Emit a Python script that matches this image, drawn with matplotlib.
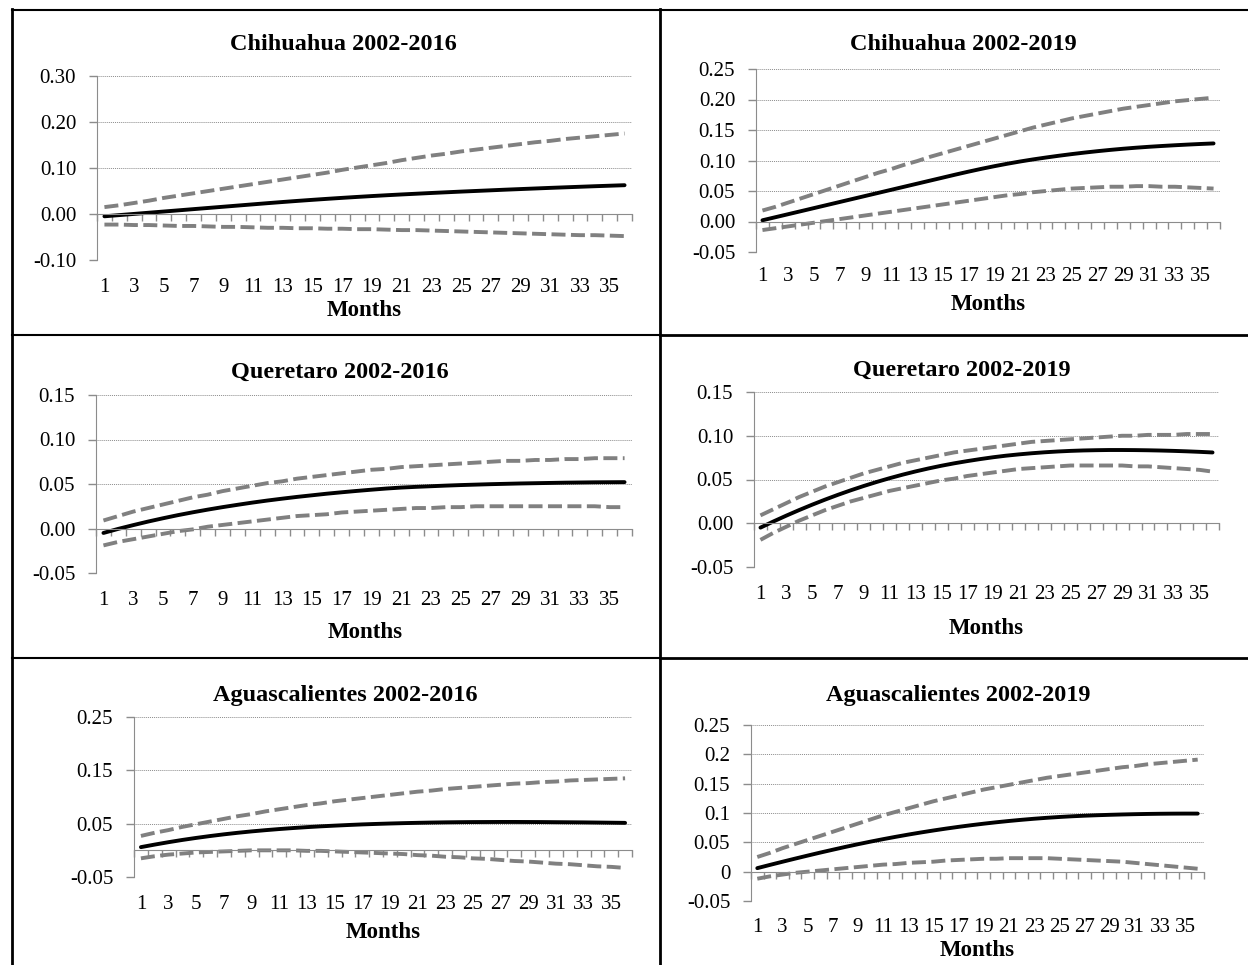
import matplotlib.pyplot as plt
from matplotlib.lines import Line2D
import numpy as np

plt.rcParams['font.family'] = ['Liberation Serif', 'DejaVu Serif']
plt.rcParams['axes.unicode_minus'] = False

W, H = 1248, 965

months = list(range(1, 37))
month_labels = [str(m) for m in range(1, 36, 2)]

# Chihuahua 2002-2016
chih16_irf = [-0.0050, -0.0024, 0.0002, 0.0028, 0.0054, 0.0080, 0.0106, 0.0132, 0.0158, 0.0184,
              0.0210, 0.0236, 0.0261, 0.0285, 0.0308, 0.0330, 0.0351, 0.0371, 0.0390, 0.0408,
              0.0425, 0.0441, 0.0457, 0.0472, 0.0487, 0.0501, 0.0515, 0.0529, 0.0542, 0.0555,
              0.0568, 0.0580, 0.0592, 0.0604, 0.0615, 0.0626]
chih16_upper = [0.015, 0.019, 0.024, 0.029, 0.035, 0.040, 0.045, 0.050, 0.055, 0.060,
                0.065, 0.070, 0.075, 0.080, 0.085, 0.090, 0.096, 0.101, 0.106, 0.111,
                0.117, 0.122, 0.127, 0.131, 0.136, 0.140, 0.144, 0.148, 0.152, 0.156,
                0.159, 0.163, 0.166, 0.169, 0.172, 0.175]
chih16_lower = [-0.023, -0.023, -0.024, -0.024, -0.025, -0.026, -0.026, -0.027, -0.028, -0.028,
                -0.029, -0.030, -0.030, -0.031, -0.031, -0.032, -0.032, -0.033, -0.033, -0.034,
                -0.035, -0.035, -0.036, -0.037, -0.038, -0.039, -0.040, -0.041, -0.042, -0.043,
                -0.044, -0.045, -0.046, -0.046, -0.047, -0.048]
chih16_yticks = [-0.10, 0.00, 0.10, 0.20, 0.30]
chih16_ylabels = ['-0.10', '0.00', '0.10', '0.20', '0.30']

# Chihuahua 2002-2019
chih19_irf = [0.0020, 0.0070, 0.0120, 0.0170, 0.0220, 0.0270, 0.0320, 0.0370, 0.0420, 0.0470,
              0.0520, 0.0570, 0.0620, 0.0670, 0.0720, 0.0770, 0.0818, 0.0864, 0.0907, 0.0947,
              0.0984, 0.1018, 0.1049, 0.1078, 0.1105, 0.1130, 0.1153, 0.1174, 0.1193, 0.1210,
              0.1225, 0.1238, 0.1250, 0.1261, 0.1271, 0.1280]
chih19_upper = [0.018, 0.024, 0.031, 0.038, 0.045, 0.052, 0.059, 0.066, 0.073, 0.080,
                0.086, 0.093, 0.099, 0.106, 0.112, 0.118, 0.124, 0.130, 0.136, 0.142,
                0.148, 0.154, 0.159, 0.164, 0.169, 0.173, 0.177, 0.181, 0.185, 0.188,
                0.191, 0.194, 0.197, 0.199, 0.201, 0.203]
chih19_lower = [-0.014, -0.011, -0.008, -0.005, -0.002, 0.001, 0.004, 0.007, 0.010, 0.013,
                0.016, 0.019, 0.022, 0.025, 0.028, 0.031, 0.034, 0.037, 0.040, 0.043,
                0.045, 0.048, 0.050, 0.052, 0.054, 0.055, 0.056, 0.057, 0.057, 0.058,
                0.058, 0.057, 0.057, 0.056, 0.055, 0.054]
chih19_yticks = [-0.05, 0.00, 0.05, 0.10, 0.15, 0.20, 0.25]
chih19_ylabels = ['-0.05', '0.00', '0.05', '0.10', '0.15', '0.20', '0.25']

# Queretaro 2002-2016
quer16_irf = [-0.0050, -0.0004, 0.0038, 0.0078, 0.0115, 0.0150, 0.0182, 0.0212, 0.0240, 0.0266,
              0.0291, 0.0314, 0.0335, 0.0355, 0.0373, 0.0391, 0.0407, 0.0422, 0.0436, 0.0449,
              0.0460, 0.0468, 0.0475, 0.0482, 0.0488, 0.0493, 0.0498, 0.0502, 0.0506, 0.0509,
              0.0512, 0.0515, 0.0517, 0.0519, 0.0520, 0.0521]
quer16_upper = [0.009, 0.014, 0.019, 0.023, 0.027, 0.031, 0.035, 0.038, 0.042, 0.045,
                0.048, 0.051, 0.053, 0.056, 0.058, 0.060, 0.062, 0.064, 0.066, 0.067,
                0.069, 0.070, 0.071, 0.072, 0.073, 0.074, 0.075, 0.076, 0.076, 0.077,
                0.077, 0.078, 0.078, 0.079, 0.079, 0.079]
quer16_lower = [-0.019, -0.015, -0.012, -0.009, -0.006, -0.003, -0.001, 0.002, 0.004, 0.006,
                0.008, 0.010, 0.012, 0.014, 0.015, 0.016, 0.018, 0.019, 0.020, 0.021,
                0.022, 0.023, 0.023, 0.024, 0.024, 0.025, 0.025, 0.025, 0.025, 0.025,
                0.025, 0.025, 0.025, 0.025, 0.024, 0.024]
quer16_yticks = [-0.05, 0.00, 0.05, 0.10, 0.15]
quer16_ylabels = ['-0.05', '0.00', '0.05', '0.10', '0.15']

# Queretaro 2002-2019
quer19_irf = [-0.0050, 0.0020, 0.0087, 0.0151, 0.0212, 0.0270, 0.0325, 0.0377, 0.0426, 0.0472,
              0.0515, 0.0555, 0.0592, 0.0626, 0.0657, 0.0685, 0.0710, 0.0733, 0.0754, 0.0772,
              0.0787, 0.0800, 0.0811, 0.0820, 0.0827, 0.0832, 0.0835, 0.0837, 0.0837, 0.0836,
              0.0834, 0.0831, 0.0827, 0.0822, 0.0816, 0.0809]
quer19_upper = [0.009, 0.016, 0.023, 0.030, 0.036, 0.042, 0.047, 0.052, 0.057, 0.061,
                0.065, 0.069, 0.072, 0.075, 0.078, 0.081, 0.083, 0.085, 0.087, 0.089,
                0.091, 0.093, 0.094, 0.095, 0.096, 0.097, 0.098, 0.099, 0.100, 0.100,
                0.101, 0.101, 0.101, 0.102, 0.102, 0.102]
quer19_lower = [-0.019, -0.011, -0.004, 0.003, 0.009, 0.015, 0.020, 0.025, 0.029, 0.033,
                0.037, 0.040, 0.043, 0.046, 0.049, 0.051, 0.054, 0.056, 0.058, 0.060,
                0.062, 0.063, 0.064, 0.065, 0.066, 0.066, 0.066, 0.066, 0.066, 0.065,
                0.065, 0.064, 0.063, 0.062, 0.061, 0.059]
quer19_yticks = [-0.05, 0.00, 0.05, 0.10, 0.15]
quer19_ylabels = ['-0.05', '0.00', '0.05', '0.10', '0.15']

# Aguascalientes 2002-2016
agua16_irf = [0.0060, 0.0108, 0.0153, 0.0195, 0.0233, 0.0268, 0.0300, 0.0329, 0.0355, 0.0378,
              0.0399, 0.0418, 0.0435, 0.0450, 0.0463, 0.0475, 0.0486, 0.0495, 0.0503, 0.0510,
              0.0516, 0.0521, 0.0525, 0.0528, 0.0530, 0.0531, 0.0532, 0.0532, 0.0531, 0.0530,
              0.0528, 0.0526, 0.0524, 0.0521, 0.0518, 0.0515]
agua16_upper = [0.027, 0.033, 0.038, 0.044, 0.049, 0.054, 0.059, 0.064, 0.068, 0.073,
                0.077, 0.081, 0.085, 0.088, 0.092, 0.095, 0.098, 0.101, 0.104, 0.107,
                0.110, 0.112, 0.115, 0.117, 0.119, 0.121, 0.123, 0.125, 0.126, 0.128,
                0.129, 0.131, 0.132, 0.133, 0.134, 0.135]
agua16_lower = [-0.015, -0.011, -0.008, -0.006, -0.004, -0.003, -0.002, -0.001, 0.000, 0.000,
                0.000, 0.000, -0.001, -0.001, -0.002, -0.003, -0.004, -0.005, -0.006, -0.007,
                -0.009, -0.010, -0.012, -0.013, -0.015, -0.016, -0.018, -0.020, -0.021, -0.023,
                -0.025, -0.026, -0.028, -0.030, -0.031, -0.033]
agua16_yticks = [-0.05, 0.05, 0.15, 0.25]
agua16_ylabels = ['-0.05', '0.05', '0.15', '0.25']

# Aguascalientes 2002-2019
agua19_irf = [0.0060, 0.0115, 0.0169, 0.0222, 0.0274, 0.0325, 0.0374, 0.0422, 0.0468, 0.0512,
              0.0554, 0.0594, 0.0632, 0.0668, 0.0702, 0.0734, 0.0764, 0.0792, 0.0818, 0.0842,
              0.0864, 0.0884, 0.0902, 0.0918, 0.0932, 0.0944, 0.0954, 0.0962, 0.0969, 0.0975,
              0.0980, 0.0984, 0.0987, 0.0989, 0.0990, 0.0990]
agua19_upper = [0.025, 0.032, 0.040, 0.047, 0.054, 0.061, 0.068, 0.075, 0.082, 0.089,
                0.096, 0.102, 0.108, 0.114, 0.120, 0.125, 0.130, 0.135, 0.140, 0.144,
                0.148, 0.152, 0.156, 0.160, 0.163, 0.166, 0.169, 0.172, 0.175, 0.178,
                0.180, 0.183, 0.185, 0.187, 0.189, 0.191]
agua19_lower = [-0.012, -0.008, -0.005, -0.002, 0.000, 0.002, 0.004, 0.006, 0.008, 0.010,
                0.012, 0.013, 0.015, 0.016, 0.017, 0.019, 0.020, 0.021, 0.022, 0.022,
                0.023, 0.023, 0.023, 0.023, 0.022, 0.021, 0.020, 0.019, 0.018, 0.017,
                0.015, 0.013, 0.011, 0.009, 0.007, 0.005]
agua19_yticks = [-0.05, 0.00, 0.05, 0.10, 0.15, 0.20, 0.25]
agua19_ylabels = ['-0.05', '0', '0.05', '0.1', '0.15', '0.2', '0.25']

AXIS_GRAY = '#8c8c8c'
BAND_GRAY = '#808080'

fig = plt.figure(figsize=(W / 100, H / 100), dpi=100)


def panel(box, title, title_xy, xlabel_xy, irf, upper, lower, yticks, ylabels, label_pad=13):
    # box is (left, top, right, bottom) in pixels from the top-left corner
    left, top, right, bottom = box
    ax = fig.add_axes([left / W, 1 - bottom / H, (right - left) / W, (bottom - top) / H])
    dash = (0, (3.6, 1.4))
    ax.plot(months, upper, color=BAND_GRAY, lw=2.8, ls=dash)
    ax.plot(months, lower, color=BAND_GRAY, lw=2.8, ls=dash)
    ax.plot(months, irf, color='black', lw=2.8, solid_capstyle='round')
    ax.set_xlim(0.5, 36.5)
    ax.set_ylim(yticks[0], yticks[-1])
    ax.set_yticks(yticks, ylabels)
    ax.yaxis.grid(True, ls=(0, (1, 1)), color=AXIS_GRAY, lw=0.7)
    ax.set_axisbelow(True)
    ax.spines['top'].set_visible(False)
    ax.spines['right'].set_visible(False)
    ax.spines['left'].set_color(AXIS_GRAY)
    ax.spines['bottom'].set_color(AXIS_GRAY)
    ax.spines['bottom'].set_position(('data', 0))
    # category axis: tick marks sit between the months
    ax.set_xticks(np.arange(0.5, 37, 1))
    ax.tick_params(axis='x', length=5, width=1, color=AXIS_GRAY, labelbottom=False)
    ax.tick_params(axis='y', length=6, width=1, color=AXIS_GRAY, labelsize=15, pad=9)
    sec = ax.secondary_xaxis('bottom')
    sec.set_xticks(range(1, 36, 2), month_labels)
    sec.tick_params(length=0, labelsize=15, pad=label_pad)
    for s in sec.spines.values():
        s.set_visible(False)
    fig.text(title_xy[0] / W, 1 - title_xy[1] / H, title, ha='center', va='center',
             fontsize=17.5, fontweight='bold')
    fig.text(xlabel_xy[0] / W, 1 - xlabel_xy[1] / H, 'Months', ha='center', va='center',
             fontsize=16.5, fontweight='bold')
    return ax


panel((97, 76, 632, 260), 'Chihuahua 2002-2016', (343, 45), (364, 310),
      chih16_irf, chih16_upper, chih16_lower, chih16_yticks, chih16_ylabels)
panel((756, 69, 1220, 252), 'Chihuahua 2002-2019', (963, 45), (988, 304),
      chih19_irf, chih19_upper, chih19_lower, chih19_yticks, chih19_ylabels, label_pad=11)
panel((96, 395, 632, 573), 'Queretaro 2002-2016', (340, 372), (365, 632),
      quer16_irf, quer16_upper, quer16_lower, quer16_yticks, quer16_ylabels)
panel((754, 392, 1219, 567), 'Queretaro 2002-2019', (962, 370), (986, 628),
      quer19_irf, quer19_upper, quer19_lower, quer19_yticks, quer19_ylabels)
panel((134, 717, 632, 877), 'Aguascalientes 2002-2016', (345, 695), (383, 932),
      agua16_irf, agua16_upper, agua16_lower, agua16_yticks, agua16_ylabels)
panel((751, 725, 1204, 901), 'Aguascalientes 2002-2019', (958, 695), (977, 951),
      agua19_irf, agua19_upper, agua19_lower, agua19_yticks, agua19_ylabels, label_pad=12)


# table rules around the six charts
def rule(x0, y0, x1, y1, width):
    fig.add_artist(Line2D([x0 / W, x1 / W], [1 - y0 / H, 1 - y1 / H],
                          transform=fig.transFigure, color='black', lw=width))


rule(12, 9.5, 1248, 9.5, 1.5)
rule(12, 9, 12, 965, 2.0)
rule(660, 9, 660, 965, 2.0)
rule(12, 335, 660, 335, 1.5)
rule(660, 335, 1248, 335, 2.0)
rule(12, 658, 660, 658, 1.5)
rule(660, 658, 1248, 658, 2.0)

fig.savefig('out.png', dpi=100)
